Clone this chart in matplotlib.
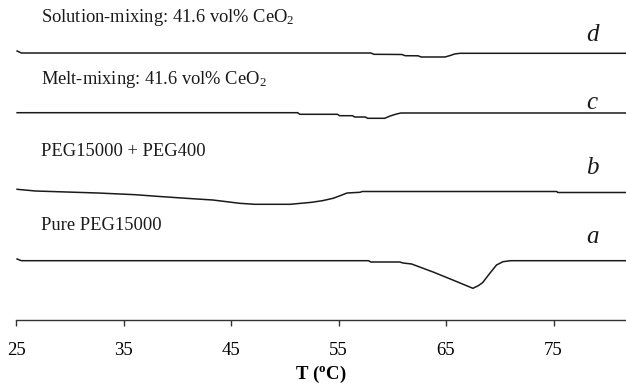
import matplotlib
matplotlib.use("Agg")
import matplotlib.pyplot as plt

plt.rcParams['font.family'] = ['Liberation Serif', 'DejaVu Serif']
plt.rcParams['mathtext.fontset'] = 'custom'
plt.rcParams['mathtext.rm'] = 'Liberation Serif'
plt.rcParams['mathtext.it'] = 'Liberation Serif:italic'
plt.rcParams['mathtext.bf'] = 'Liberation Serif:bold'

# Temperature (deg C) and signal (arbitrary units, stacked, downward = endotherm)
T_d = [25.1, 25.5, 58.0, 58.3, 60.9, 61.2, 62.4, 62.7, 64.9, 65.4, 65.8, 66.3, 81.7]
y_d = [-51.0, -53.0, -53.0, -54.3, -54.5, -55.7, -55.8, -57.0, -57.0, -55.5, -54.0, -53.3, -53.3]

T_c = [25.1, 51.2, 51.4, 54.9, 55.1, 56.3, 56.5, 57.5, 57.7, 59.3, 59.8, 60.4, 60.8, 81.7]
y_c = [-112.7, -112.7, -114.3, -114.3, -115.7, -115.7, -117.0, -117.0, -118.3, -118.3, -116.0, -114.0, -113.0, -113.0]

T_b = [25.1, 26.8, 32.6, 36.1, 38.1, 40.0, 41.4, 43.3, 44.6, 45.8, 47.2, 50.5,
       51.5, 52.5, 53.5, 54.5, 55.2, 55.8, 57.0, 57.2, 75.3, 75.4, 81.7]
y_b = [-189.3, -191.0, -193.0, -194.7, -196.3, -197.7, -198.7, -200.0, -201.7, -203.3, -204.3, -204.3,
       -203.3, -202.3, -200.7, -198.3, -195.5, -193.0, -192.3, -191.5, -191.5, -192.5, -192.5]

T_a = [25.1, 25.5, 57.8, 58.0, 60.7, 61.0, 61.8, 63.8, 65.7, 67.5, 68.0, 68.4, 69.1, 69.7, 70.3, 71.0, 81.7]
y_a = [-259.0, -260.7, -260.7, -262.0, -262.0, -263.0, -264.0, -272.0, -280.3, -288.3, -285.7, -282.7,
       -273.0, -265.0, -261.7, -260.7, -260.7]

curve_T = [T_a, T_b, T_c, T_d]
curve_y = [y_a, y_b, y_c, y_d]
labels = ['Pure PEG15000', 'PEG15000 + PEG400',
          r'Melt-mixing: 41.6 vol% CeO$_2$', r'Solution-mixing: 41.6 vol% CeO$_2$']
letters = ['a', 'b', 'c', 'd']
label_y = [-225, -152, -79, -17]
letter_y = [-237, -168, -103, -35]

xticks = [25, 35, 45, 55, 65, 75]

W, H = 626, 389
fig = plt.figure(figsize=(W / 100, H / 100), dpi=100)
ax = fig.add_axes([16 / W, (H - 320) / H, 1 - 16 / W, 320 / H])
ax.set_xlim(25, 25 + (W - 16) / 10.75)
ax.set_ylim(-320, 0)

for T, y in zip(curve_T, curve_y):
    ax.plot(T, y, color='#1a1a1a', lw=1.1, solid_joinstyle='miter')

for lab, ly in zip(labels, label_y):
    ax.text(27.3, ly, lab, fontsize=13.3, va='center', ha='left', color='#1a1a1a')
for let, ly in zip(letters, letter_y):
    ax.text(78.6, ly, let, fontsize=18, style='italic', va='center', ha='center', color='#1a1a1a')

for s in ['left', 'right', 'top']:
    ax.spines[s].set_visible(False)
ax.spines['bottom'].set_color('#333333')
ax.spines['bottom'].set_linewidth(1.0)
ax.set_yticks([])
ax.set_xticks(xticks)
ax.set_xticklabels([str(t) for t in xticks], fontsize=13.5)
ax.tick_params(axis='x', direction='out', length=4, width=1.0, color='#333333', pad=12)
ax.set_xlabel(r'T ($^{\mathbf{o}}$C)', fontsize=13.5, fontweight='bold', labelpad=3)

fig.savefig('out.png', dpi=100)
